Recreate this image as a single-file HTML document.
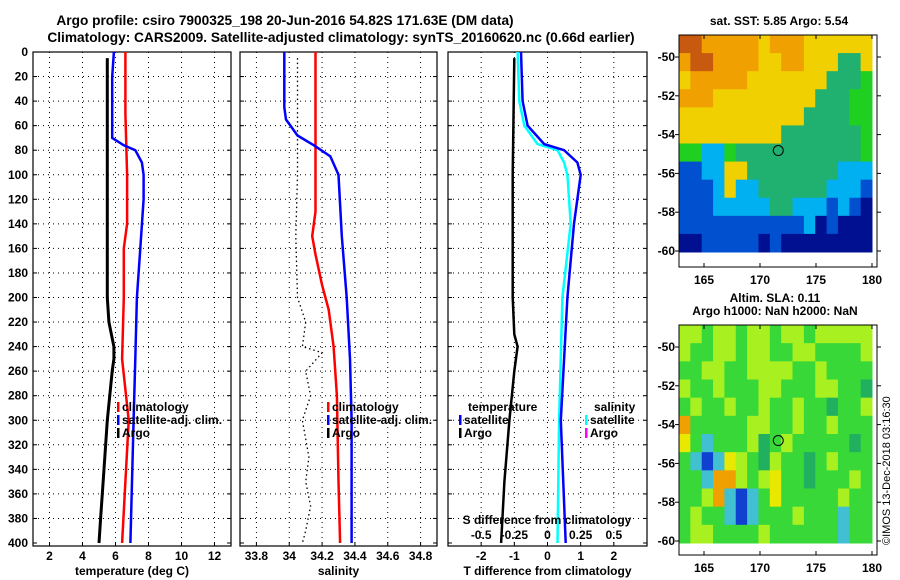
<!DOCTYPE html>
<html><head><meta charset="utf-8"><style>
body{margin:0;background:#fff}
svg{display:block;font-family:"Liberation Sans",sans-serif;font-weight:bold}
</style></head><body>
<svg id="c" width="900" height="580" viewBox="0 0 900 580" xmlns="http://www.w3.org/2000/svg">
<text x="285" y="25" font-size="13.7" text-anchor="middle">Argo profile: csiro 7900325_198 20-Jun-2016 54.82S 171.63E (DM data)</text>
<text x="341" y="42" font-size="13.7" text-anchor="middle">Climatology: CARS2009. Satellite-adjusted climatology: synTS_20160620.nc (0.66d earlier)</text>
<text x="779" y="25" font-size="12" text-anchor="middle">sat. SST: 5.85 Argo: 5.54</text>
<text x="775" y="302" font-size="12" text-anchor="middle">Altim. SLA: 0.11</text>
<text x="775" y="315" font-size="12" text-anchor="middle">Argo h1000: NaN h2000: NaN</text>
<text transform="translate(890,545) rotate(-90)" font-size="11" font-weight="normal">©IMOS 13-Dec-2018 03:16:30</text>
</svg>
<script>
// ---- data ----
const depthArgoT=[5,50,100,150,200,220,240,250,260,300,340,380,400];
const argoT=[5.5,5.5,5.5,5.5,5.5,5.6,5.9,5.9,5.8,5.5,5.3,5.1,5.0];
const depthClimT=[0,50,100,140,160,200,250,300,350,400];
const climT=[6.6,6.6,6.7,6.7,6.5,6.5,6.4,6.8,6.6,6.4];
const depthSatT=[0,20,60,70,76,80,90,100,120,160,200,250,300,350,400];
const satT=[5.9,5.8,5.8,5.8,6.5,7.2,7.6,7.7,7.7,7.5,7.3,7.2,7.1,7.0,6.9];
const depthS=[0,50,100,130,150,165,190,210,240,280,350,400];
const climS=[34.16,34.16,34.16,34.16,34.14,34.16,34.2,34.24,34.27,34.29,34.3,34.31];
const depthSatS=[0,45,55,68,76,85,100,150,200,250,300,400];
const satS=[33.97,33.97,33.98,34.05,34.15,34.25,34.3,34.32,34.35,34.37,34.38,34.38];
const depthArgoS=[5,100,150,200,220,240,245,260,280,300,330,350,370,390,400];
const argoS=[34.05,34.05,34.04,34.05,34.1,34.08,34.2,34.1,34.13,34.08,34.12,34.1,34.13,34.1,34.08];
const depthDiff=[0,40,60,75,80,90,100,140,200,300,400];
const diffTsat=[-0.8,-0.75,-0.6,-0.1,0.5,0.9,1.0,0.8,0.6,0.4,0.55];
const diffSsat=[-0.9,-0.85,-0.7,-0.3,0.3,0.5,0.6,0.7,0.45,0.35,0.3];
const depthDiffArgo=[5,100,200,230,240,260,300,350,400];
const diffTargo=[-1.0,-1.05,-1.05,-1.0,-0.9,-1.0,-1.15,-1.3,-1.4];
const depthTicks=[0,20,40,60,80,100,120,140,160,180,200,220,240,260,280,300,320,340,360,380,400];
const tTicks=[2,4,6,8,10,12];
const sTicks=[33.8,34,34.2,34.4,34.6,34.8];
const dTicks=[-2,-1,0,1,2];
const dsTicks=["-0.5","-0.25","0","0.25","0.5"];
const sstGrid=["rroooooyoooyyyyyy","orrooooyyooyyyGGy","yoooooyyyyyyyGGGg","oooyyyyyyyyyGGGgg","yyyyyyyyyyyGGGGgg","yyyyyyyyyGGGGGGGg","ggccgGGGGGGGGGGGg","bbccyyGGGGGGGGccc","bbbcyccGGGGGGcccb","bbbcccccGGcccbcbB","bbbbbbbbbbbcBbBBB","BBbbbbbBbBBBBBBBB"];
const slaGrid=["LLGLLGLLGLLGLLLLL","LGGLLGLLGGLLGGGGL","GGLLGGLLLLGGLGGGG","LGGLGGGLLGGGLLGGD","GLGGLGGLGGLGGDGGL","OGGGGGLLGGLGGLGGG","YGCGGGLDGLGGGGGDG","GCBCYLGDLGGDGLGGG","GGCOOLGLYGGDGGGLG","GGLOCBCGYGGGGGLGG","GLGGCBCGGGLGGGCGG","GLLGGGGLGGGGGGCGG"];
const lonTicks=[165,170,175,180];
const latTicks=[-50,-52,-54,-56,-58,-60];
// ---- drawing ----
const svg=document.getElementById('c');
const NS='http://www.w3.org/2000/svg';
function mk(tag,a,parent){const e=document.createElementNS(NS,tag);for(const k in a)e.setAttribute(k,a[k]);(parent||svg).appendChild(e);return e;}
const Y0=52,Y1=543;
const yD=d=>Y0+(d/400)*(Y1-Y0);
function panel(name,x0,x1,dmin,dmax,ticks,tickLabels,xlabel,ylabels){
  const g=mk('g',{});
  
  
  const xs=v=>x0+(v-dmin)/(dmax-dmin)*(x1-x0);
  depthTicks.forEach(d=>{
    if(d>0&&d<400)mk('line',{x1:x0,x2:x1,y1:yD(d),y2:yD(d),stroke:'#000','stroke-dasharray':'1 4','stroke-width':1},g);
    mk('line',{x1:x0,x2:x0+4,y1:yD(d),y2:yD(d),stroke:'#000'},g);
    mk('line',{x1:x1-4,x2:x1,y1:yD(d),y2:yD(d),stroke:'#000'},g);
    if(ylabels){const t=mk('text',{x:x0-5,y:yD(d)+4,'font-size':12,'text-anchor':'end'},g);t.textContent=d;}
  });
  ticks.forEach((v,i)=>{
    mk('line',{x1:xs(v),x2:xs(v),y1:Y0,y2:Y1+3,stroke:'#000','stroke-dasharray':'1 4'},g);
    mk('line',{x1:xs(v),x2:xs(v),y1:Y1+3,y2:Y1-1,stroke:'#000'},g);
    const t=mk('text',{x:xs(v),y:560,'font-size':12,'text-anchor':'middle'},g);t.textContent=tickLabels[i];
  });
  mk('rect',{x:x0,y:Y0,width:x1-x0,height:Y1+3-Y0,fill:'none',stroke:'#000','stroke-width':1.2},g);
  const xl=mk('text',{x:(x0+x1)/2,y:575,'font-size':12,'text-anchor':'middle'},g);xl.textContent=xlabel;
  return {g,xs};
}
function line(p,name,depths,vals,color,w,dash){
  const pts=depths.map((d,i)=>p.xs(vals[i]).toFixed(1)+','+yD(d).toFixed(1)).join(' ');
  const e=mk('polyline',{points:pts,fill:'none',stroke:color,'stroke-width':w},p.g);
  if(dash)e.setAttribute('stroke-dasharray',dash);
  
  
}
function legend(g,x,y,items){
  items.forEach((it,i)=>{
    mk('rect',{x:x,y:y+i*13-9,width:2.5,height:10,fill:it[1]},g);
    const t=mk('text',{x:x+5,y:y+i*13,'font-size':12},g);t.textContent=it[0];
  });
}
const p1=panel('temperature-panel',33,231,1,13,tTicks,tTicks,'temperature (deg C)',true);
line(p1,'argo-temperature-line',depthArgoT,argoT,'#000',3);
line(p1,'climatology-temperature-line',depthClimT,climT,'#f00',2.5);
line(p1,'satellite-temperature-line',depthSatT,satT,'#00f',2.5);
legend(p1.g,117,411,[['climatology','#f00'],['satellite-adj. clim.','#00f'],['Argo','#000']]);
const p2=panel('salinity-panel',240,437,33.7,34.9,sTicks,sTicks,'salinity',false);
line(p2,'argo-salinity-line',depthArgoS,argoS,'#000',1.3,'1.5 3');
line(p2,'climatology-salinity-line',depthS,climS,'#f00',2.5);
line(p2,'satellite-salinity-line',depthSatS,satS,'#00f',2.5);
legend(p2.g,327,411,[['climatology','#f00'],['satellite-adj. clim.','#00f'],['Argo','#000']]);
const p3=panel('difference-panel',448,647,-3,3,dTicks,dTicks,'T difference from climatology',false);
line(p3,'argo-t-difference-line',depthDiffArgo,diffTargo,'#000',2.5);
line(p3,'satellite-s-difference-line',depthDiff,diffSsat,'#0ff',2.5);
line(p3,'satellite-t-difference-line',depthDiff,diffTsat,'#00f',2.5);
const t1=mk('text',{x:468,y:411,'font-size':12},p3.g);t1.textContent='temperature';
legend(p3.g,459,424,[['satellite','#00f'],['Argo','#000']]);
const t2=mk('text',{x:594,y:411,'font-size':12},p3.g);t2.textContent='salinity';
legend(p3.g,585,424,[['satellite','#0ff'],['Argo','#f0f']]);
const st=mk('text',{x:547,y:524,'font-size':12,'text-anchor':'middle'},p3.g);st.textContent='S difference from climatology';
dTicks.forEach((v,i)=>{const t=mk('text',{x:p3.xs(v),y:539,'font-size':12,'text-anchor':'middle'},p3.g);t.textContent=dsTicks[i];});
// maps
const sstCol={r:'#c85a10',o:'#f0a000',y:'#f0d000',g:'#20d020',G:'#20b070',c:'#00b0f0',b:'#0050d0',B:'#001090'};
const slaCol={G:'#38d838',L:'#a8f020',Y:'#e8e800',O:'#f0a000',C:'#40c0d0',B:'#1040d0',D:'#20b060'};
function map(name,top,bot,dataBot,grid,cols,lat50){
  const g=mk('g',{});
  
  
  const x0=679,x1=877;
  const lx=lon=>704+(lon-165)*(872-704)/15;
  const ly=lat=>lat50+(-50-lat)*19.4;
  const cw=(872-x0)/grid[0].length;
  const rh=(dataBot-top)/grid.length;
  grid.forEach((row,r)=>{for(let c=0;c<row.length;c++){
    mk('rect',{x:x0+c*cw,y:top+r*rh,width:cw+0.5,height:rh+0.5,fill:cols[row[c]]},g);
  }});
  mk('rect',{x:x0,y:top,width:x1-x0,height:bot-top,fill:'none',stroke:'#000'},g);
  lonTicks.forEach(l=>{mk('line',{x1:lx(l),x2:lx(l),y1:bot,y2:bot-4,stroke:'#000'},g);mk('line',{x1:lx(l),x2:lx(l),y1:top,y2:top+4,stroke:'#000'},g);
    const t=mk('text',{x:lx(l),y:bot+17,'font-size':12,'text-anchor':'middle'},g);t.textContent=l;});
  latTicks.forEach(l=>{const y=ly(l);mk('line',{x1:x1,x2:x1+4,y1:y,y2:y,stroke:'#000'},g);mk('line',{x1:x0-4,x2:x0,y1:y,y2:y,stroke:'#000'},g);
    const t=mk('text',{x:x0-4,y:y+4,'font-size':12,'text-anchor':'end'},g);t.textContent=l;});
  mk('circle',{cx:lx(171.63),cy:ly(-54.82),r:5,fill:'none',stroke:'#000'},g);
}
map('sst-map',35,267,252,sstGrid,sstCol,57);
map('sla-map',325,555,543,slaGrid,slaCol,347);
</script>
</body></html>
